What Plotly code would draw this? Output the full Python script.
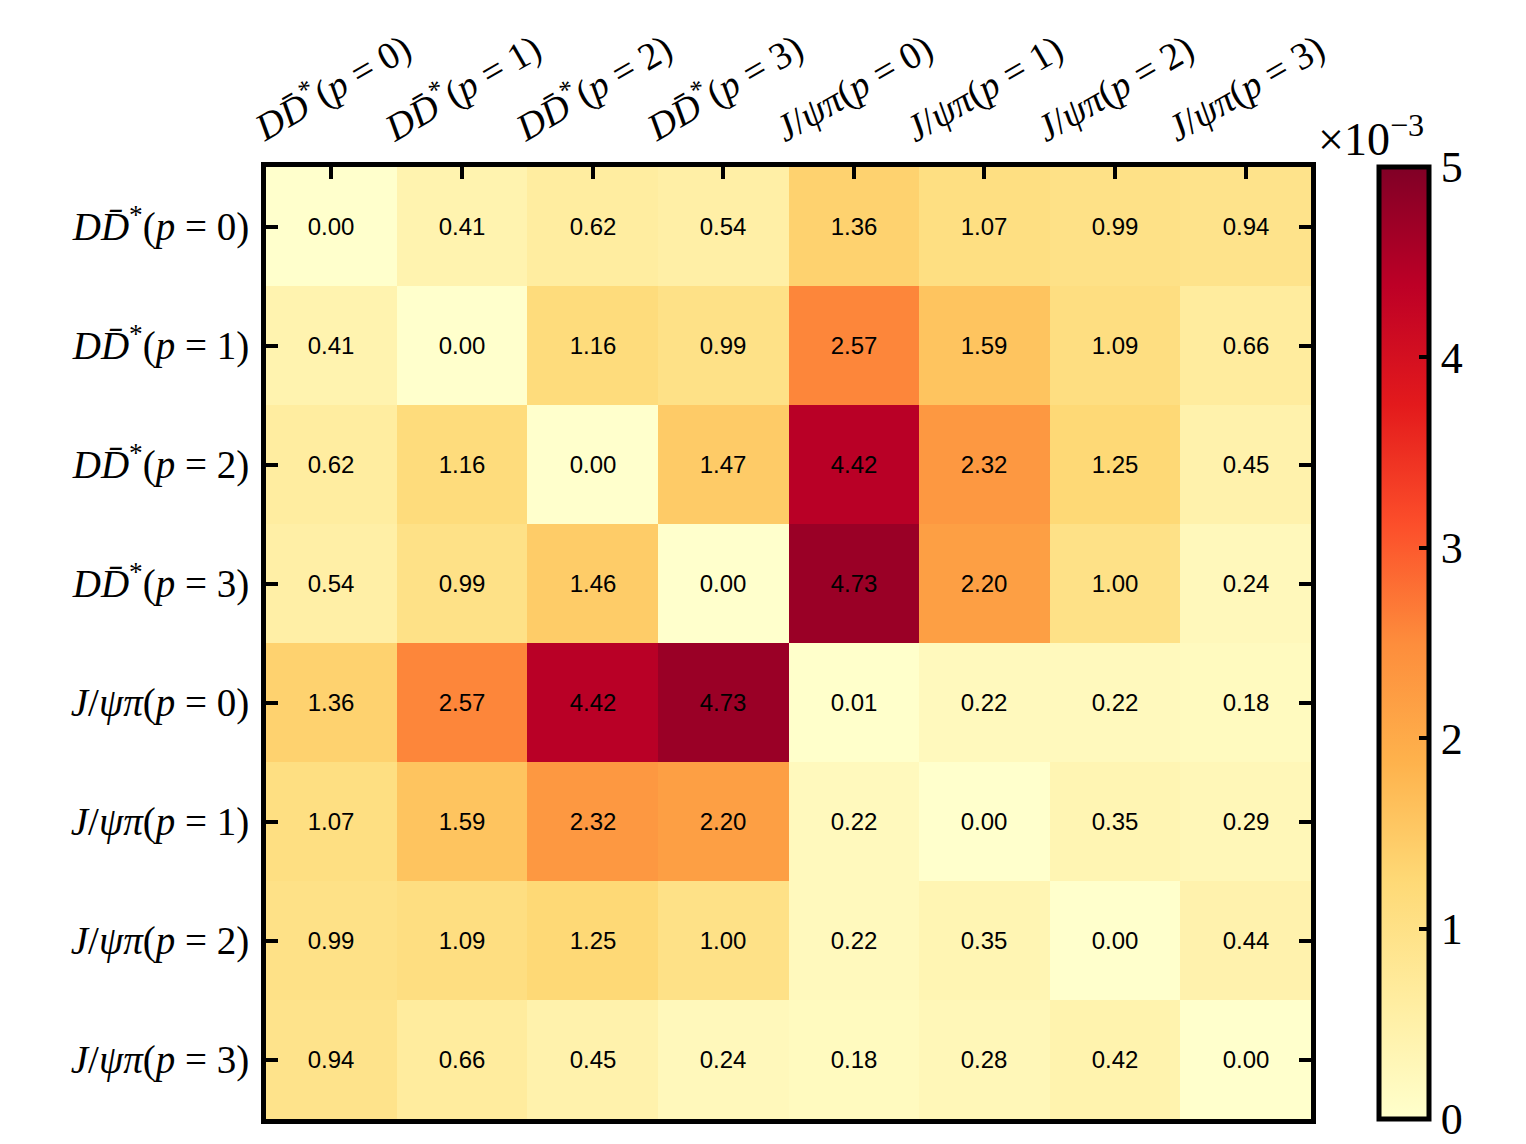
import plotly.graph_objects as go

labels = [
    "<i>D</i><i>D̄</i><sup>*</sup>(<i>p</i> = 0)",
    "<i>D</i><i>D̄</i><sup>*</sup>(<i>p</i> = 1)",
    "<i>D</i><i>D̄</i><sup>*</sup>(<i>p</i> = 2)",
    "<i>D</i><i>D̄</i><sup>*</sup>(<i>p</i> = 3)",
    "<i>J</i>/<i>ψπ</i>(<i>p</i> = 0)",
    "<i>J</i>/<i>ψπ</i>(<i>p</i> = 1)",
    "<i>J</i>/<i>ψπ</i>(<i>p</i> = 2)",
    "<i>J</i>/<i>ψπ</i>(<i>p</i> = 3)",
]

# values in units of 1e-3
row_dd0 = [0.00, 0.41, 0.62, 0.54, 1.36, 1.07, 0.99, 0.94]
row_dd1 = [0.41, 0.00, 1.16, 0.99, 2.57, 1.59, 1.09, 0.66]
row_dd2 = [0.62, 1.16, 0.00, 1.47, 4.42, 2.32, 1.25, 0.45]
row_dd3 = [0.54, 0.99, 1.46, 0.00, 4.73, 2.20, 1.00, 0.24]
row_jp0 = [1.36, 2.57, 4.42, 4.73, 0.01, 0.22, 0.22, 0.18]
row_jp1 = [1.07, 1.59, 2.32, 2.20, 0.22, 0.00, 0.35, 0.29]
row_jp2 = [0.99, 1.09, 1.25, 1.00, 0.22, 0.35, 0.00, 0.44]
row_jp3 = [0.94, 0.66, 0.45, 0.24, 0.18, 0.28, 0.42, 0.00]
z = [row_dd0, row_dd1, row_dd2, row_dd3, row_jp0, row_jp1, row_jp2, row_jp3]

cbar_ticks = [0, 1, 2, 3, 4, 5]

ylorrd = ["#ffffcc", "#ffeda0", "#fed976", "#feb24c", "#fd8d3c",
          "#fc4e2a", "#e31a1c", "#bd0026", "#800026"]
colorscale = [[i / (len(ylorrd) - 1), c] for i, c in enumerate(ylorrd)]

serif = "Liberation Serif, DejaVu Serif, serif"
idx = list(range(len(labels)))

fig = go.Figure(go.Heatmap(
    z=z,
    x=idx,
    y=idx,
    zmin=0, zmax=5,
    colorscale=colorscale,
    texttemplate="%{z:.2f}",
    textfont=dict(family="Liberation Sans, Arial, sans-serif", size=24, color="black"),
    colorbar=dict(
        x=1.065, xanchor="left", xpad=0,
        y=0.5, yanchor="middle", len=1.0, lenmode="fraction", ypad=0,
        thickness=50,
        outlinewidth=5, outlinecolor="black",
        tickvals=cbar_ticks,
        ticktext=[str(t) for t in cbar_ticks],
        ticks="inside", ticklen=12, tickwidth=4, tickcolor="black",
        tickfont=dict(family=serif, size=44, color="black"),
    ),
))

fig.update_xaxes(
    side="top",
    tickvals=idx, showticklabels=False,
    ticks="inside", ticklen=12, tickwidth=4, tickcolor="black",
    showline=True, linewidth=5, linecolor="black", mirror=True,
    range=[-0.5, 7.5],
    showgrid=False, zeroline=False,
)
fig.update_yaxes(
    tickvals=idx, ticktext=labels,
    autorange=False, range=[7.5, -0.5],
    ticks="inside", ticklen=12, tickwidth=4, tickcolor="black",
    showline=True, linewidth=5, linecolor="black", mirror="ticks",
    tickfont=dict(family=serif, size=39, color="black"),
    ticklabelstandoff=4,
    showgrid=False, zeroline=False,
)

# rotated top labels, centred over their ticks
for i, lab in zip(idx, labels):
    fig.add_annotation(
        text=lab, xref="x", yref="paper", x=i, y=1.0,
        xanchor="center", yanchor="bottom", yshift=14,
        textangle=-30, showarrow=False,
        font=dict(family=serif, size=38, color="black"),
    )

fig.add_annotation(
    text="×10<sup>−3</sup>", xref="paper", yref="paper",
    x=1.11, y=1.0, xanchor="right", yanchor="bottom", yshift=0,
    showarrow=False,
    font=dict(family=serif, size=46, color="black"),
)

fig.update_layout(
    width=1526, height=1144,
    margin=dict(l=258, r=223, t=159, b=33, autoexpand=False),
    plot_bgcolor="white", paper_bgcolor="white",
)

fig.write_html("out.html")
